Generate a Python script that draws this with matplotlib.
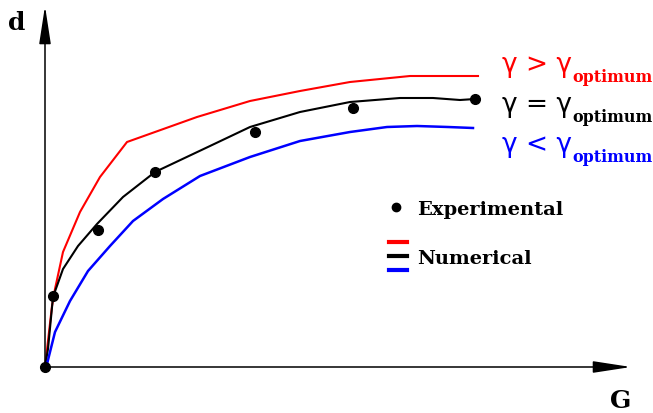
import matplotlib.pyplot as plt
from matplotlib.lines import Line2D

# everything measured as offsets from the origin of the sketch (G right, d up)
exp_G = [0, 8, 53, 110, 210, 308, 430]
exp_d = [0, 71, 137, 195, 235, 259, 268]

opt_G = [0, 3, 8, 18, 33, 52, 78, 110, 165, 205, 255, 305, 355, 388, 415, 430]
opt_d = [0, 18, 70, 98, 121, 143, 170, 195, 221, 240, 255, 265, 269, 269, 267, 268]

high_G = [0, 7, 10, 18, 35, 55, 82, 152, 205, 255, 305, 365, 433]
high_d = [0, 61, 78, 115, 155, 190, 225, 250, 266, 276, 285, 291, 291]

low_G = [0, 2, 10, 25, 43, 65, 88, 118, 155, 205, 255, 305, 342, 372, 403, 428]
low_d = [0, 3, 35, 66, 96, 121, 146, 168, 191, 210, 226, 235, 240, 241, 240, 239]

curve_labels = ['>', '=', '<']
curve_colors = ['#ff0000', 'black', '#0000ff']


class StackHandler:
    """Three short coloured dashes stacked on top of each other."""
    def legend_artist(self, legend, orig_handle, fontsize, handlebox):
        w, h = handlebox.width, handlebox.height
        x0, y0 = -handlebox.xdescent, -handlebox.ydescent
        yc = y0 + h / 2
        for i, c in enumerate(orig_handle):
            line = Line2D([x0 + 2, x0 + w + 1], [yc + 10 - 10 * i] * 2, color=c, lw=3)
            handlebox.add_artist(line)
        return line


fig = plt.figure(figsize=(6.53, 4.14), dpi=100)
ax = fig.add_axes([0, 0, 1, 1])
ax.set_xlim(-45, 608)
ax.set_ylim(-46, 368)
ax.axis('off')

# axes with arrows
arrow = dict(arrowstyle='-|>,head_length=1.3,head_width=0.2', color='black',
             lw=1.1, mutation_scale=18, shrinkA=0, shrinkB=0)
ax.annotate('', xy=(0, 361), xytext=(0, 0), arrowprops=arrow)
ax.annotate('', xy=(586, 0), xytext=(0, 0), arrowprops=arrow)
ax.text(-37, 338, 'd', family='DejaVu Serif', weight='bold', fontsize=18, va='baseline')
ax.text(565, -40, 'G', family='DejaVu Serif', weight='bold', fontsize=18, va='baseline')

ax.plot(high_G, high_d, color=curve_colors[0], lw=1.5)
ax.plot(opt_G, opt_d, color=curve_colors[1], lw=1.5)
ax.plot(low_G, low_d, color=curve_colors[2], lw=1.8)
ax.plot(exp_G, exp_d, 'o', color='black', ms=7, zorder=5)

# gamma labels with bold subscript
for i, (op, c) in enumerate(zip(curve_labels, curve_colors)):
    t = ax.text(457, 295.5 - 40 * i, 'γ ' + op + ' γ', color=c, family='DejaVu Sans',
                fontsize=19, va='baseline')
    ax.annotate('optimum', xy=(1, 0), xycoords=t, xytext=(0, -2.5), textcoords='offset points',
                color=c, family='DejaVu Serif', weight='bold', fontsize=11.5, va='baseline')

handles = [Line2D([], [], marker='o', ls='none', color='black', ms=6),
           tuple(curve_colors)]
ax.legend(handles, ['Experimental', 'Numerical'], handler_map={tuple: StackHandler()},
          loc='upper left', bbox_to_anchor=(386 / 653, 1 - 201 / 414), frameon=False,
          borderpad=0, borderaxespad=0, handlelength=1.0, handletextpad=0.6,
          labelspacing=1.6, prop=dict(family='DejaVu Serif', weight='bold', size=14))

fig.savefig('out.png', dpi=100)
